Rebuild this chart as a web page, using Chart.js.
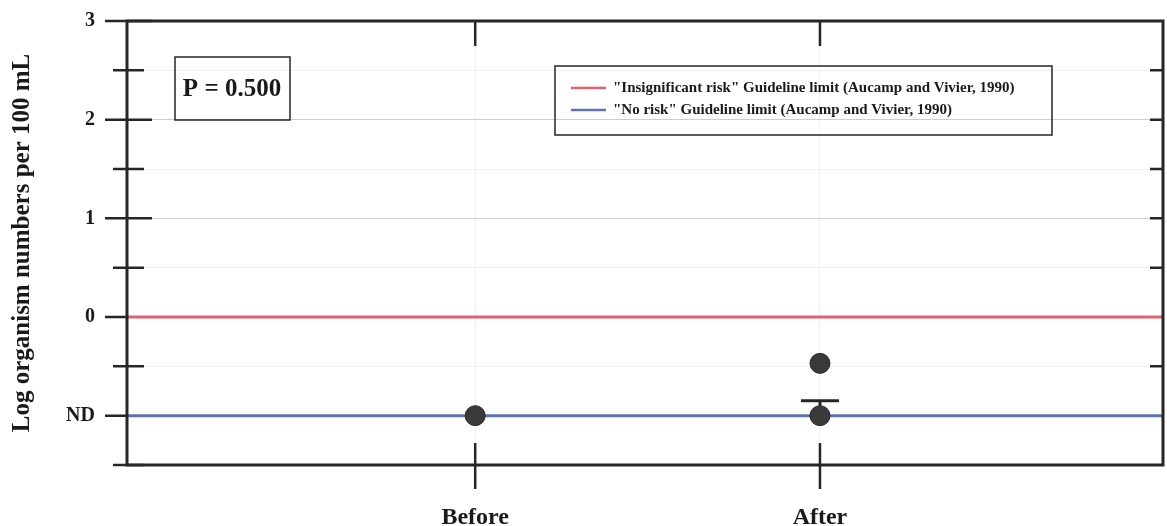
<!DOCTYPE html>
<html>
<head>
<meta charset="utf-8">
<script src="https://cdn.jsdelivr.net/npm/chart.js@4.4.1/dist/chart.umd.min.js"></script>
<style>
  html, body { margin: 0; padding: 0; background: #fff; }
  canvas { display: block; }
</style>
</head>
<body>
<canvas id="chart" width="1167" height="526"></canvas>
<script>
// values
const categories = ['Before', 'After']
const categoryX = [1, 2]
const beforeValues = [-1]
const afterValues = [-1, -0.47]
const afterErrorTop = -0.85
const insignificantRisk = 0
const noRisk = -1
const yTickLabels = { '3': '3', '2': '2', '1': '1', '0': '0', '-1': 'ND' }
const pValueText = 'P = 0.500'

const serif = '"Liberation Serif", "DejaVu Serif", serif'
const ink = '#262626'
const clear = 'rgba(0,0,0,0)'

const frameAndTicks = {
    id: 'frameAndTicks',
    beforeDatasetsDraw(chart) {
        const { ctx, scales: { x, y } } = chart
        // error bar on the After column
        const ex = x.getPixelForValue(categoryX[1])
        const y0 = y.getPixelForValue(afterValues[0])
        const y1 = y.getPixelForValue(afterErrorTop)
        ctx.save()
        ctx.strokeStyle = ink
        ctx.lineWidth = 3
        ctx.beginPath()
        ctx.moveTo(ex, y0); ctx.lineTo(ex, y1)
        ctx.moveTo(ex - 19, y1); ctx.lineTo(ex + 19, y1)
        ctx.stroke()
        ctx.restore()
    },
    afterDraw(chart) {
        const { ctx, chartArea: a, scales: { x, y } } = chart
        ctx.save()
        ctx.strokeStyle = ink
        ctx.lineWidth = 3
        ctx.strokeRect(a.left, a.top, a.right - a.left, a.bottom - a.top)

        ctx.lineWidth = 2.5
        ctx.beginPath()
        for (let v = -1.5; v <= 3; v += 0.5) {
            const py = y.getPixelForValue(v)
            const major = Number.isInteger(v)
            const onGuideline = v === insignificantRisk || v === noRisk
            ctx.moveTo(a.left - (major ? 22 : 14), py)
            ctx.lineTo(onGuideline ? a.left : a.left + (major ? 25 : 17), py)
            if (v > -1.5 && v < 3 && !onGuideline) {
                ctx.moveTo(a.right - 13, py)
                ctx.lineTo(a.right, py)
            }
        }
        categoryX.forEach(cx => {
            const px = x.getPixelForValue(cx)
            ctx.moveTo(px, a.bottom - 22); ctx.lineTo(px, a.bottom + 24)
            ctx.moveTo(px, a.top); ctx.lineTo(px, a.top + 25)
        })
        ctx.stroke()

        // P value box
        ctx.lineWidth = 1.5
        ctx.strokeRect(a.left + 48, a.top + 36, 115, 63)
        ctx.fillStyle = '#1a1a1a'
        ctx.font = 'bold 25px ' + serif
        ctx.textAlign = 'center'
        ctx.textBaseline = 'middle'
        ctx.fillText(pValueText, a.left + 48 + 57, a.top + 36 + 33)

        // legend box for the guideline lines
        const lx = 555, ly = 66
        ctx.strokeRect(lx, ly, 497, 69)
        ctx.textAlign = 'left'
        ctx.font = 'bold 15px ' + serif
        chart.data.datasets.slice(1).forEach((ds, i) => {
            const ry = ly + 22 + i * 22
            ctx.strokeStyle = ds.borderColor
            ctx.lineWidth = 2.5
            ctx.beginPath()
            ctx.moveTo(lx + 16, ry); ctx.lineTo(lx + 51, ry)
            ctx.stroke()
            ctx.fillText(ds.label, lx + 58, ry)
        })
        ctx.restore()
    }
}

const points = []
beforeValues.forEach(v => points.push({ x: categoryX[0], y: v }))
afterValues.forEach(v => points.push({ x: categoryX[1], y: v }))

new Chart(document.getElementById('chart'), {
    type: 'scatter',
    data: {
        datasets: [
            {
                label: 'Log organism numbers',
                data: points,
                pointRadius: 10,
                pointBackgroundColor: '#3a3a3a',
                pointBorderColor: '#2a2a2a',
                pointBorderWidth: 1
            },
            {
                label: '"Insignificant risk" Guideline limit (Aucamp and Vivier, 1990)',
                data: [{ x: -0.01, y: insignificantRisk }, { x: 3, y: insignificantRisk }],
                showLine: true,
                borderColor: '#e0606e',
                borderWidth: 3,
                pointRadius: 0
            },
            {
                label: '"No risk" Guideline limit (Aucamp and Vivier, 1990)',
                data: [{ x: -0.01, y: noRisk }, { x: 3, y: noRisk }],
                showLine: true,
                borderColor: '#5874b4',
                borderWidth: 3,
                pointRadius: 0
            }
        ]
    },
    options: {
        responsive: false,
        animation: false,
        layout: { autoPadding: false, padding: { top: 21, right: 4, left: 0, bottom: 0 } },
        plugins: { legend: { display: false }, tooltip: { enabled: false } },
        scales: {
            x: {
                type: 'linear',
                min: -0.01,
                max: 2.995,
                afterFit(scale) { scale.height = 61 },
                afterBuildTicks(scale) {
                    scale.ticks = categoryX.map(v => ({ value: v }))
                },
                ticks: {
                    padding: 0,
                    color: '#1a1a1a',
                    font: { family: serif, size: 24, weight: 'bold' },
                    callback: v => (categoryX.indexOf(v) >= 0 ? categories[categoryX.indexOf(v)] : '')
                },
                grid: {
                    drawTicks: true,
                    tickLength: 38,
                    tickColor: clear,
                    color: '#f1f1f1'
                },
                border: { display: false }
            },
            y: {
                min: -1.5,
                max: 3,
                afterFit(scale) { scale.width = 127 },
                ticks: {
                    stepSize: 0.5,
                    padding: 0,
                    color: '#1a1a1a',
                    font: { family: serif, size: 20, weight: 'bold' },
                    callback: v => yTickLabels[String(v)] || ''
                },
                grid: {
                    drawTicks: true,
                    tickLength: 32,
                    tickColor: clear,
                    color: c => {
                        const v = c.tick.value
                        if (v === 1 || v === 2) return '#cdcdcd'
                        if (!Number.isInteger(v) && v > -1.5) return '#eeeeee'
                        return clear
                    }
                },
                border: { display: false },
                title: {
                    display: true,
                    text: 'Log organism numbers per 100 mL',
                    color: '#1a1a1a',
                    font: { family: serif, size: 25, weight: 'bold' },
                    padding: { top: 8, bottom: 0 }
                }
            }
        }
    },
    plugins: [frameAndTicks]
})
</script>
</body>
</html>
